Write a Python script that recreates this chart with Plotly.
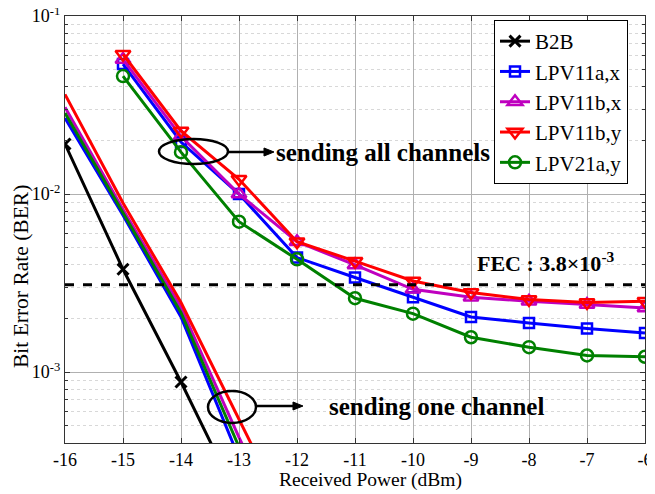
import plotly.graph_objects as go

# ---------------- data ----------------
x_one = [-16, -15, -14, -13, -12]
x_b2b = [-16, -15, -14, -13]
x_all = [-15, -14, -13, -12, -11, -10, -9, -8, -7, -6]

b2b = [0.0191, 0.00378, 0.00088, 0.00019]

one_11ax = [0.0267, 0.0076, 0.00204, 0.00033, 0.00007]
one_11bx = [0.0307, 0.0082, 0.0023, 0.00043, 0.00009]
one_11by = [0.0363, 0.0089, 0.00246, 0.00054, 0.00012]
one_21ay = [0.0285, 0.0079, 0.00216, 0.00038, 0.00008]

all_11ax = [0.0537, 0.0196, 0.0100, 0.0044, 0.0034, 0.00263, 0.00204, 0.00189, 0.00176, 0.00166]
all_11bx = [0.057, 0.0211, 0.0100, 0.0054, 0.0040, 0.00292, 0.00263, 0.0025, 0.0024, 0.00229]
all_11by = [0.061, 0.0226, 0.0121, 0.0054, 0.0042, 0.00325, 0.0028, 0.00256, 0.00246, 0.0025]
all_21ay = [0.046, 0.0172, 0.0070, 0.0043, 0.0026, 0.00213, 0.00157, 0.00138, 0.00124, 0.00122]

fec_level = 0.0031
fec_x = [-16, -6]

names = ["B2B", "LPV11a,x", "LPV11b,x", "LPV11b,y", "LPV21a,y"]
x_ticks = [-16, -15, -14, -13, -12, -11, -10, -9, -8, -7, -6]
x_ticktext = ["-16", "-15", "-14", "-13", "-12", "-11", "-10", "-9", "-8", "-7", "-6"]
y_ticks = [1e-3, 1e-2, 1e-1]
y_ticktext = ["10<sup>-3</sup>", "10<sup>-2</sup>", "10<sup>-1</sup>"]
y_minor = [4e-4, 5e-4, 6e-4, 7e-4, 8e-4, 9e-4,
           2e-3, 3e-3, 4e-3, 5e-3, 6e-3, 7e-3, 8e-3, 9e-3,
           2e-2, 3e-2, 4e-2, 5e-2, 6e-2, 7e-2, 8e-2, 9e-2]

# ---------------- figure ----------------
FONT = "Liberation Serif"
fig = go.Figure()

fig.add_trace(go.Scatter(
    x=x_b2b, y=b2b, name=names[0], mode="lines+markers",
    line=dict(color="black", width=3),
    marker=dict(symbol="x-thin-open", size=11, line=dict(color="black", width=3)),
    legendgroup="b2b"))

series = [
    (names[1], "#0000ff", "square-open", one_11ax, all_11ax, 10),
    (names[2], "#bf00bf", "triangle-up-open", one_11bx, all_11bx, 13),
    (names[3], "#ff0000", "triangle-down-open", one_11by, all_11by, 13),
    (names[4], "#008000", "circle-open", one_21ay, all_21ay, 12),
]
for name, col, sym, one, allc, ms in series:
    fig.add_trace(go.Scatter(
        x=x_one, y=one, name=name, mode="lines", showlegend=False,
        line=dict(color=col, width=3), legendgroup=name))
for name, col, sym, one, allc, ms in series:
    fig.add_trace(go.Scatter(
        x=x_all, y=allc, name=name, mode="lines+markers",
        line=dict(color=col, width=3),
        marker=dict(symbol=sym, size=ms, color=col, line=dict(color=col, width=2.5)),
        legendgroup=name))

fig.add_trace(go.Scatter(
    x=fec_x, y=[fec_level, fec_level], mode="lines", showlegend=False,
    line=dict(color="black", width=3, dash="dash")))

# The page body has an 8px margin: size the figure so the plot area lands
# at page pixels x 65..645, y 16..443.
OFF = 8
W, H = 655 - OFF, 494 - OFF
L, T = 65 - OFF, 16 - OFF
R = W - (645 - OFF)
B = H - (443 - OFF)
PW, PH = W - L - R, H - T - B


def px(X):
    return (X - OFF - L) / PW


def py(Y):
    return (H - B - (Y - OFF)) / PH


def arrow(x0, x1, y):
    head = 10
    half = 4
    return [
        dict(type="line", xref="paper", yref="paper",
             x0=px(x0), x1=px(x1 - head + 2), y0=py(y), y1=py(y),
             line=dict(color="black", width=2.5)),
        dict(type="path", xref="paper", yref="paper",
             path="M {:.5f},{:.5f} L {:.5f},{:.5f} L {:.5f},{:.5f} Z".format(
                 px(x1), py(y), px(x1 - head), py(y - half), px(x1 - head), py(y + half)),
             fillcolor="black", line=dict(color="black", width=1)),
    ]


shapes = [
    dict(type="circle", xref="paper", yref="paper",
         x0=px(159), x1=px(228), y0=py(164), y1=py(139),
         line=dict(color="black", width=2.5)),
    dict(type="circle", xref="paper", yref="paper",
         x0=px(208), x1=px(256), y0=py(423), y1=py(391),
         line=dict(color="black", width=2.5)),
] + arrow(228, 274, 152) + arrow(256, 303, 406)

annotations = [
    dict(xref="paper", yref="paper", x=px(274), y=py(152), xanchor="left", yanchor="middle",
         text="<b>sending all channels</b>", showarrow=False,
         font=dict(family=FONT, size=25, color="black")),
    dict(xref="paper", yref="paper", x=px(327), y=py(406), xanchor="left", yanchor="middle",
         text="<b>sending one channel</b>", showarrow=False,
         font=dict(family=FONT, size=25, color="black")),
    dict(xref="paper", yref="paper", x=px(475), y=py(262), xanchor="left", yanchor="middle",
         text="<b>FEC : 3.8\u00d710<sup>-3</sup></b>", showarrow=False,
         font=dict(family=FONT, size=22, color="black")),
    # axis titles
    dict(xref="paper", yref="paper", x=px(370), y=py(480), xanchor="center", yanchor="middle",
         text="Received Power (dBm)", showarrow=False,
         font=dict(family=FONT, size=19.5, color="black")),
    dict(xref="paper", yref="paper", x=px(21), y=py(277), xanchor="center", yanchor="middle",
         text="Bit Error Rate (BER)", showarrow=False, textangle=-90,
         font=dict(family=FONT, size=21.5, color="black")),
]

fig.update_layout(
    width=W, height=H,
    margin=dict(l=L, r=R, t=T, b=B, autoexpand=False),
    paper_bgcolor="white", plot_bgcolor="white",
    font=dict(family=FONT, size=18, color="black"),
    showlegend=True,
    legend=dict(x=px(494), y=py(20), xanchor="left", yanchor="top",
                bgcolor="white", bordercolor="black", borderwidth=1,
                font=dict(family=FONT, size=21, color="black"),
                tracegroupgap=0, itemwidth=30),
    shapes=shapes, annotations=annotations,
)

fig.update_xaxes(
    range=[-16, -6], tickvals=x_ticks, ticktext=x_ticktext,
    automargin=False,
    showgrid=True, gridcolor="#b0b0b0", gridwidth=1,
    ticks="inside", ticklen=5, tickcolor="#333", mirror="ticks",
    showline=True, linecolor="#333", linewidth=1.2,
    zeroline=False,
    tickfont=dict(family=FONT, size=18),
)
fig.update_yaxes(
    type="log", range=[-3.398, -1],
    tickvals=y_ticks, ticktext=y_ticktext,
    automargin=False, ticklabeloverflow="allow",
    showgrid=True, gridcolor="#b0b0b0", gridwidth=1,
    ticks="inside", ticklen=5, tickcolor="#333", mirror="ticks",
    showline=True, linecolor="#333", linewidth=1.2,
    zeroline=False,
    minor=dict(tickvals=y_minor, ticks="inside", ticklen=3, tickcolor="#333",
               showgrid=True, gridcolor="#d8d8d8", griddash="dot", gridwidth=1),
    tickfont=dict(family=FONT, size=18),
)

fig.write_html("out.html")
